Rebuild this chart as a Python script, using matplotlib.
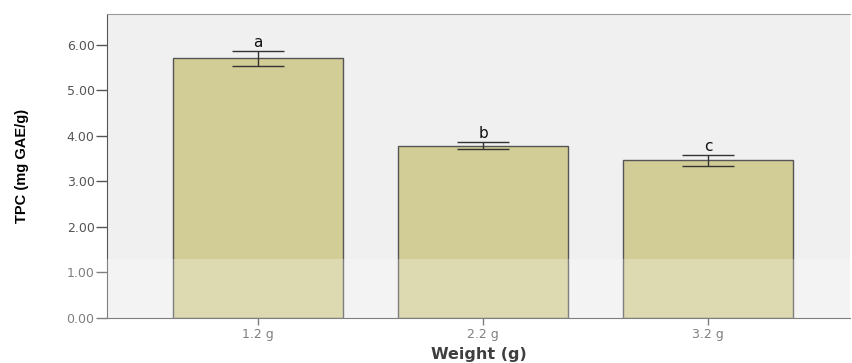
import matplotlib.pyplot as plt
from matplotlib.patches import Rectangle

# --- data ---
weights = ['1.2 g', '2.2 g', '3.2 g']
tpc = [5.70, 3.78, 3.46]
tpc_err = [0.165, 0.075, 0.125]
letters = ['a', 'b', 'c']

plt.rcParams['font.family'] = ['DejaVu Sans']

fig = plt.figure(figsize=(8.52, 3.63), dpi=100)
ax = fig.add_axes([107 / 852, 1 - 318 / 363, (850 - 107) / 852, (318 - 14) / 363])
ax.set_facecolor('#f0f0f0')

x = range(len(weights))
ax.bar(x, tpc, width=0.755, color='#d2cd96', edgecolor='#555555', linewidth=1.0, zorder=2)
ax.errorbar(x, tpc, yerr=tpc_err, fmt='none', ecolor='#333333', elinewidth=1.0,
            capsize=18.5, capthick=1.0, zorder=3)

for xi, v, e, lab in zip(x, tpc, tpc_err, letters):
    ax.text(xi, v + e + 0.02, lab, ha='center', va='bottom', fontsize=11, color='#111111')

ax.set_xlim(-0.67, 2.63)
ax.set_ylim(0, 6.67)
ax.set_yticks([0, 1, 2, 3, 4, 5, 6])
ax.set_yticklabels(['%.2f' % t for t in [0, 1, 2, 3, 4, 5, 6]])
ax.set_xticks(list(x))
ax.set_xticklabels(weights)
ax.tick_params(axis='y', length=8, width=1, color='#555555', labelcolor='#555555', labelsize=9, pad=1)
ax.tick_params(axis='x', length=5, width=1, color='#555555', labelcolor='#555555', labelsize=9, pad=2)

for s in ['left', 'bottom']:
    ax.spines[s].set_color('#555555')
ax.spines['top'].set_color('#999999')
ax.spines['right'].set_visible(False)

ax.set_ylabel('TPC (mg GAE/g)', fontsize=10.5, fontweight='bold', family='Liberation Sans')
ax.yaxis.set_label_coords(-0.105, 0.5)
ax.set_xlabel('Weight (g)', fontsize=11.5, fontweight='bold', color='#000000')
ax.xaxis.set_label_coords(0.5, -0.097)

# pale band over the lower part of the picture
fig.patches.append(Rectangle((0, 0), 1, 1 - 259 / 363, transform=fig.transFigure,
                             facecolor='white', alpha=0.25, edgecolor='none', zorder=10))

fig.savefig('out.png', dpi=100)
